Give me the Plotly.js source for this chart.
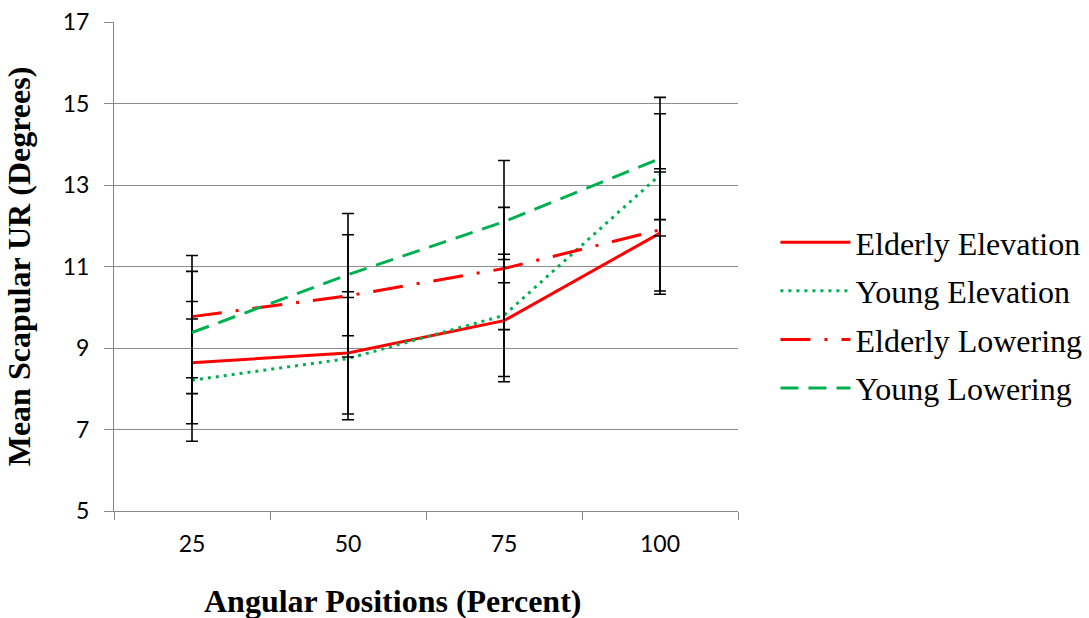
<!DOCTYPE html>
<html>
<head>
<meta charset="utf-8">
<script src="https://cdn.plot.ly/plotly-3.0.1.min.js"></script>
<style>html,body{margin:0;padding:0;background:#fff;}#chart{width:1089px;height:618px;}</style>
</head>
<body>
<div id="chart"></div>
<script>
const categories = ["25", "50", "75", "100"];
const elderlyElevation = [8.64, 8.88, 9.67, 11.82];
const youngElevation = [8.21, 8.74, 9.80, 13.25];
const elderlyLowering = [9.77, 10.28, 10.95, 11.90];
const youngLowering = [9.38, 10.80, 12.10, 13.65];
const elderlyElevationErr = [1.5, 1.5, 1.5, 1.5];
const youngElevationErr = [1.5, 1.5, 1.5, 1.5];
const elderlyLoweringErr = [1.5, 1.5, 1.5, 1.5];
const youngLoweringErr = [1.5, 1.5, 1.5, 1.5];
const yTicks = [5, 7, 9, 11, 13, 15, 17];
const xTitle = "Angular Positions (Percent)";
const yTitle = "Mean Scapular UR (Degrees)";

const RED = "#FF0000", GREEN = "#00B050";
const SERIF = "Liberation Serif, Times New Roman, serif";
function err(a) {
  return {type: "data", array: a, visible: true, color: "#000000", thickness: 1.6, width: 6};
}
function tr(name, y, e, color, dash, lg) {
  return {
    type: "scatter", mode: "lines", name: name, x: categories, y: y,
    line: {color: color, width: 3, dash: dash},
    error_y: err(e), legendgroup: lg
  };
}
const data = [
  tr("Elderly Elevation", elderlyElevation, elderlyElevationErr, RED, "solid", "a"),
  tr("Young Elevation", youngElevation, youngElevationErr, GREEN, "3px,5px", "b"),
  tr("Elderly Lowering", elderlyLowering, elderlyLoweringErr, RED, "30px,14px,3px,14px", "c"),
  tr("Young Lowering", youngLowering, youngLoweringErr, GREEN, "18px,10px", "d")
];
const layout = {
  width: 1089, height: 618,
  margin: {l: 114, r: 351, t: 22, b: 107, autoexpand: false},
  paper_bgcolor: "#ffffff", plot_bgcolor: "#ffffff",
  showlegend: true,
  legend: {
    x: 1.06, xanchor: "left", y: 0.40, yanchor: "middle",
    font: {family: SERIF, size: 32, color: "#000"},
    itemwidth: 70, tracegroupgap: 4, bgcolor: "rgba(0,0,0,0)"
  },
  annotations: [{
    text: xTitle, xref: "paper", yref: "paper", x: 0.447, y: -0.184,
    xanchor: "center", yanchor: "middle", showarrow: false,
    font: {family: SERIF, size: 32, color: "#000", weight: "bold"}
  }],
  xaxis: {
    type: "category", categoryorder: "array", categoryarray: categories,
    range: [-0.5, 3.5],
    tickson: "boundaries", ticks: "outside", ticklen: 8, tickcolor: "#888",
    showline: true, linecolor: "#888", linewidth: 1, showgrid: false,
    tickfont: {family: "Lato, Open Sans, sans-serif", size: 23, color: "#000"},
    ticklabelstandoff: 12,
    automargin: false, fixedrange: true
  },
  yaxis: {
    range: [5, 17], tickmode: "array", tickvals: yTicks, ticktext: yTicks.map(String),
    ticks: "outside", ticklen: 9, tickcolor: "#888",
    showline: true, linecolor: "#888", linewidth: 1,
    showgrid: true, gridcolor: "#8c8c8c", gridwidth: 1, zeroline: false,
    tickfont: {family: "Lato, Open Sans, sans-serif", size: 23, color: "#000"},
    ticklabelstandoff: 10,
    title: {text: yTitle, font: {family: SERIF, size: 32, color: "#000", weight: "bold"}, standoff: 22},
    automargin: false, fixedrange: true
  }
};
Plotly.newPlot("chart", data, layout, {staticPlot: true, displayModeBar: false});
</script>
</body>
</html>
